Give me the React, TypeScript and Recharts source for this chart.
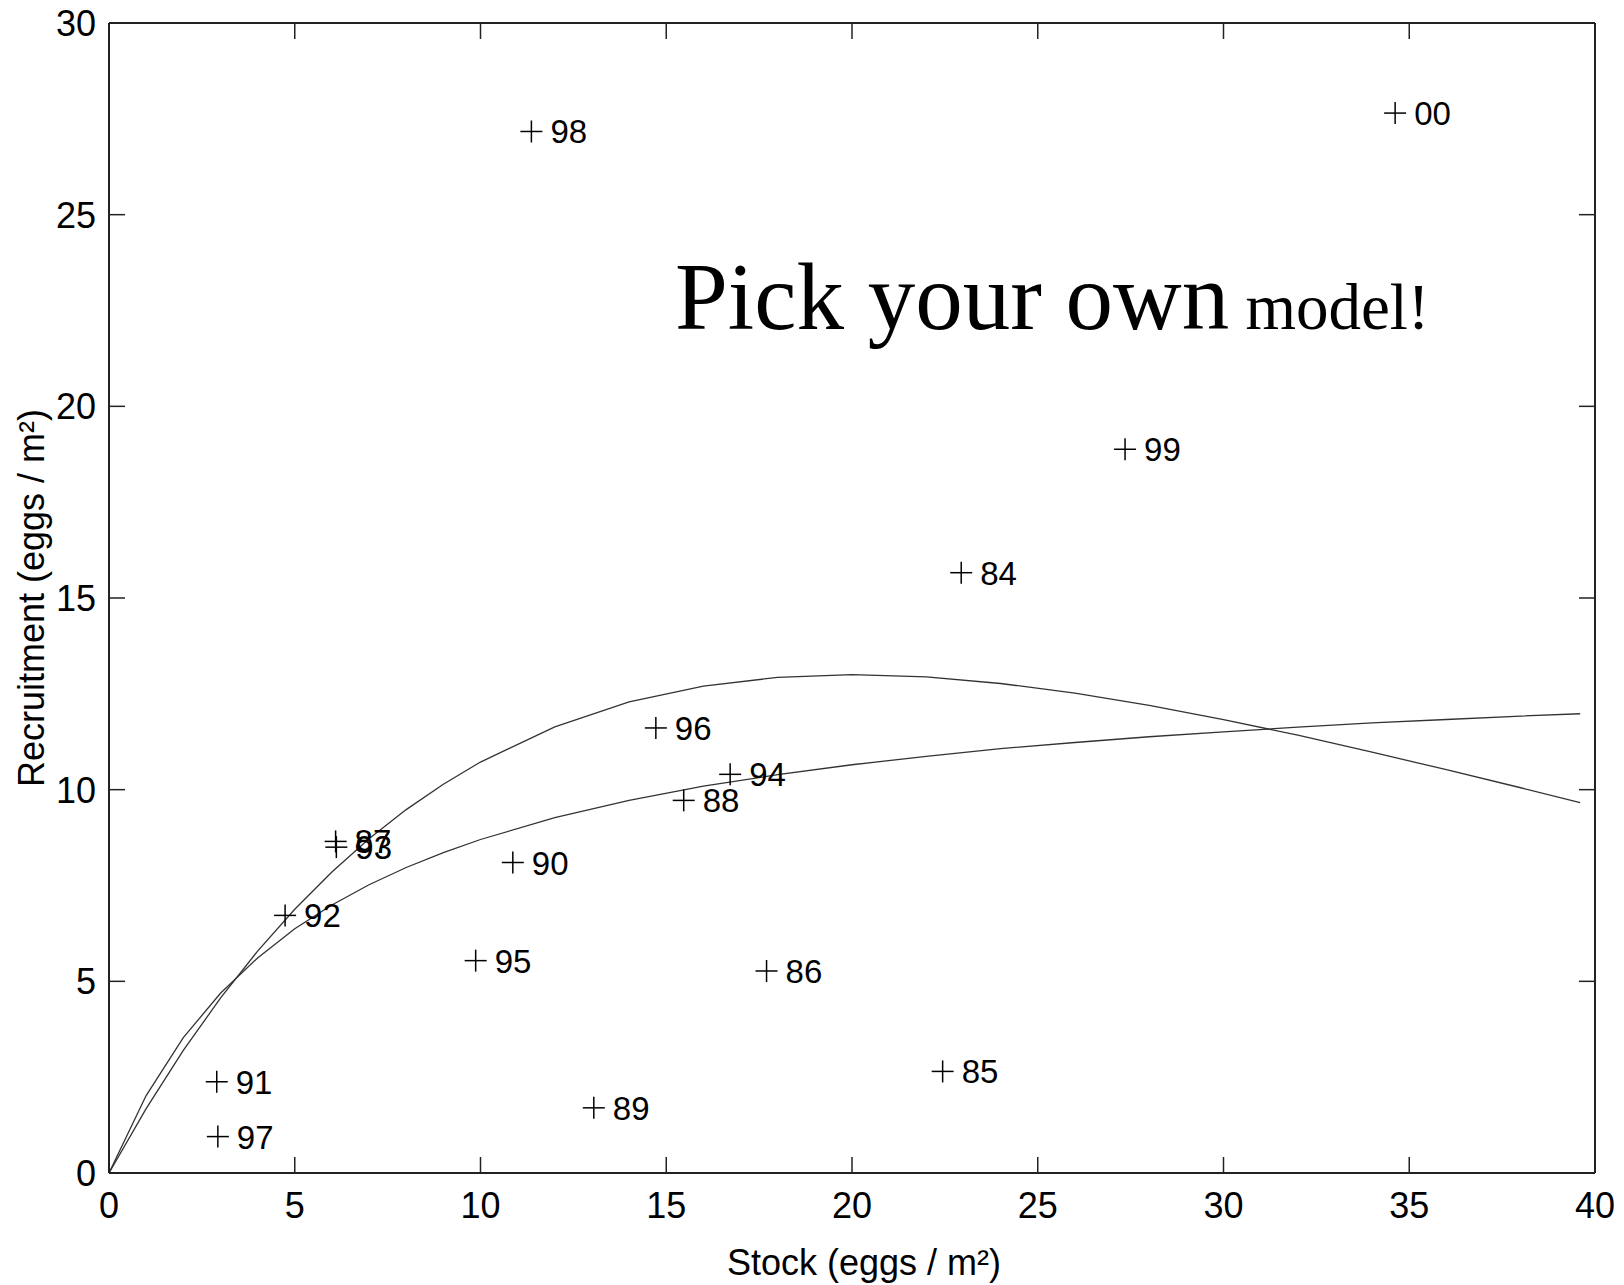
import React from 'react';
import { ComposedChart, Line, Scatter, XAxis, YAxis, Label } from 'recharts';

// axis ticks
const stockTicks = [0, 5, 10, 15, 20, 25, 30, 35, 40];
const recruitTicks = [0, 5, 10, 15, 20, 25, 30];

// observed stock / recruitment by year class
const years = ['84', '85', '86', '87', '88', '89', '90', '91', '92', '93', '94', '95', '96', '97', '98', '99', '00'];
const stock = [22.94, 22.44, 17.7, 6.1, 15.47, 13.05, 10.87, 2.9, 4.74, 6.12, 16.72, 9.87, 14.72, 2.93, 11.37, 27.35, 34.62];
const recruitment = [15.66, 2.65, 5.27, 8.65, 9.72, 1.7, 8.1, 2.38, 6.72, 8.5, 10.4, 5.54, 11.61, 0.95, 27.17, 18.88, 27.65];

// fitted curves
const curveStock = [0, 1, 2, 3, 4, 5, 6, 7, 8, 9, 10, 12, 14, 16, 18, 20, 22, 24, 26, 28, 30, 32, 34, 36, 38, 39.6];
const rickerFit = [0, 1.68, 3.2, 4.56, 5.79, 6.88, 7.85, 8.72, 9.48, 10.14, 10.72, 11.64, 12.29, 12.7, 12.93, 13.0, 12.94, 12.77, 12.52, 12.2, 11.83, 11.42, 10.98, 10.52, 10.05, 9.66];
const bevHoltFit = [0, 2.02, 3.53, 4.69, 5.61, 6.37, 6.99, 7.52, 7.97, 8.36, 8.7, 9.27, 9.72, 10.09, 10.39, 10.65, 10.87, 11.07, 11.23, 11.38, 11.51, 11.63, 11.74, 11.83, 11.92, 11.98];

const points = years.map((year, i) => ({ year, s: stock[i], r: recruitment[i] }));
const ricker = curveStock.map((s, i) => ({ s, r: rickerFit[i] }));
const bevHolt = curveStock.map((s, i) => ({ s, r: bevHoltFit[i] }));

const W = 1624;
const H = 1285;
const M = { top: 22, right: 28, bottom: 52, left: 0 };
const X_AXIS_H = 60;
const Y_AXIS_W = 109;
const PLOT_TOP = M.top + 1;
const PLOT_RIGHT = W - M.right - 1;

const FONT = '"Liberation Sans", Arial, Helvetica, sans-serif';
const FRAME = '#222';
const TICK_LEN = 16;

// bottom tick with its mirrored tick on the top frame edge
const BottomTick = (props: any) => {
  const { x, y, payload } = props;
  return (
    <g>
      <line x1={x} x2={x} y1={y} y2={y - TICK_LEN} stroke={FRAME} strokeWidth={1.5} />
      <line x1={x} x2={x} y1={PLOT_TOP} y2={PLOT_TOP + TICK_LEN} stroke={FRAME} strokeWidth={1.5} />
      <text x={x} y={y + 45} textAnchor="middle" fontSize={36} fontFamily={FONT} fill="#000">
        {payload.value}
      </text>
    </g>
  );
};

// left tick with its mirrored tick on the right frame edge
const LeftTick = (props: any) => {
  const { x, y, payload } = props;
  return (
    <g>
      <line x1={x} x2={x + TICK_LEN} y1={y} y2={y} stroke={FRAME} strokeWidth={1.5} />
      <line x1={PLOT_RIGHT} x2={PLOT_RIGHT - TICK_LEN} y1={y} y2={y} stroke={FRAME} strokeWidth={1.5} />
      <text x={x - 13} y={y + 13} textAnchor="end" fontSize={36} fontFamily={FONT} fill="#000">
        {payload.value}
      </text>
    </g>
  );
};

const PlusMark = (props: any) => {
  const { cx, cy, payload } = props;
  return (
    <g>
      <line x1={cx - 11} x2={cx + 11} y1={cy} y2={cy} stroke="#000" strokeWidth={1.5} />
      <line x1={cx} x2={cx} y1={cy - 11} y2={cy + 11} stroke="#000" strokeWidth={1.5} />
      <text x={cx + 19} y={cy + 12} fontSize={33} fontFamily={FONT} fill="#000">
        {payload.year}
      </text>
    </g>
  );
};

const App: React.FC = () => {
  return (
    <div style={{ position: 'absolute', left: 0, top: 0, width: W, height: H, background: '#fff' }}>
      <ComposedChart width={W} height={H} margin={M}>
        <XAxis
          xAxisId="bottom"
          dataKey="s"
          type="number"
          domain={[0, 40]}
          ticks={stockTicks}
          height={X_AXIS_H}
          tickSize={0}
          tickMargin={0}
          tick={<BottomTick />}
          axisLine={{ stroke: FRAME, strokeWidth: 2 }}
          tickLine={false}
          allowDataOverflow
        >
          <Label
            value="Stock (eggs / m²)"
            position="bottom"
            offset={16}
            dx={12}
            style={{ fontSize: 36, fontFamily: FONT, fill: '#000' }}
          />
        </XAxis>
        <XAxis
          xAxisId="top"
          orientation="top"
          dataKey="s"
          type="number"
          domain={[0, 40]}
          ticks={stockTicks}
          height={1}
          tick={false}
          axisLine={{ stroke: FRAME, strokeWidth: 2 }}
          tickLine={false}
        />
        <YAxis
          yAxisId="left"
          dataKey="r"
          type="number"
          domain={[0, 30]}
          ticks={recruitTicks}
          width={Y_AXIS_W}
          tickSize={0}
          tickMargin={0}
          tick={<LeftTick />}
          axisLine={{ stroke: FRAME, strokeWidth: 2 }}
          tickLine={false}
          allowDataOverflow
        >
          <Label
            value="Recruitment (eggs / m²)"
            angle={-90}
            position="insideLeft"
            offset={31}
            style={{ fontSize: 36, fontFamily: FONT, fill: '#000', textAnchor: 'middle' }}
          />
        </YAxis>
        <YAxis
          yAxisId="right"
          orientation="right"
          dataKey="r"
          type="number"
          domain={[0, 30]}
          ticks={recruitTicks}
          width={1}
          tick={false}
          axisLine={{ stroke: FRAME, strokeWidth: 2 }}
          tickLine={false}
        />
        <Line
          xAxisId="bottom"
          yAxisId="left"
          data={ricker}
          dataKey="r"
          type="linear"
          stroke="#333"
          strokeWidth={1.3}
          dot={false}
          isAnimationActive={false}
        />
        <Line
          xAxisId="bottom"
          yAxisId="left"
          data={bevHolt}
          dataKey="r"
          type="linear"
          stroke="#333"
          strokeWidth={1.3}
          dot={false}
          isAnimationActive={false}
        />
        <Scatter
          xAxisId="bottom"
          yAxisId="left"
          data={points}
          dataKey="r"
          shape={<PlusMark />}
          isAnimationActive={false}
        />
      </ComposedChart>
      <svg width={W} height={H} style={{ position: 'absolute', left: 0, top: 0, pointerEvents: 'none' }}>
        <text x={675} y={329} fontFamily='"Liberation Serif", "Times New Roman", serif' fill="#000">
          <tspan fontSize={95}>Pick your own</tspan>
          <tspan fontSize={65}> model!</tspan>
        </text>
      </svg>
    </div>
  );
};

export default App;
